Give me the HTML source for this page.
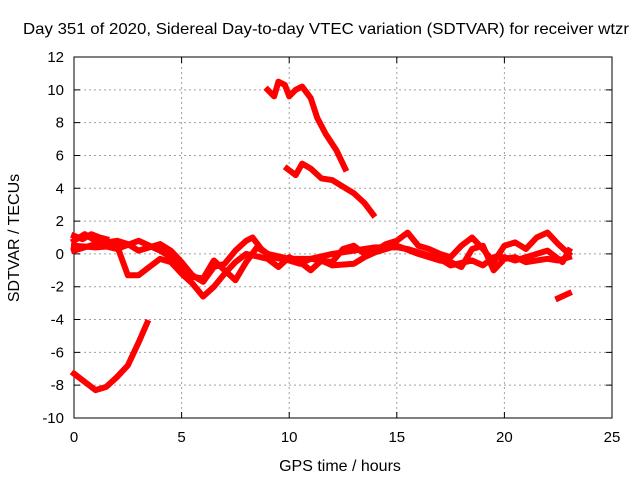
<!DOCTYPE html>
<html><head><meta charset="utf-8"><style>
body{margin:0;background:#fff}
svg{display:block;font-family:"Liberation Sans",Arial,sans-serif}
</style></head><body>
<svg id="c" width="640" height="480"></svg>
<script>
const xTicks=[0,5,10,15,20,25];
const yTicks=[-10,-8,-6,-4,-2,0,2,4,6,8,10,12];
const seriesDrop=[[0,-7.3],[0.5,-7.8],[1,-8.3],[1.5,-8.1],[2,-7.5],[2.5,-6.8],[3,-5.4],[3.4,-4.2]];
const seriesHigh=[[9,10],[9.3,9.6],[9.5,10.5],[9.8,10.3],[10,9.6],[10.3,10],[10.6,10.2],[11,9.5],[11.3,8.3],[11.7,7.3],[12.2,6.3],[12.6,5.2]];
const seriesMid=[[9.9,5.2],[10.3,4.8],[10.6,5.5],[11,5.2],[11.5,4.6],[12,4.5],[12.5,4.1],[13,3.7],[13.5,3.1],[13.9,2.4]];
const seriesLate=[[22.5,-2.7],[23,-2.4]];
const seriesBand1=[[0,0.8],[0.5,1.2],[1,0.8],[1.5,0.7],[2,0.8],[2.5,0.6],[3,0.2],[3.5,0.4],[4,0.6],[4.5,0.2],[5,-0.5],[5.5,-1.3],[6,-1.7],[6.5,-0.8],[7,-0.6],[7.5,0.2],[8,0.8],[8.3,1.0],[8.7,0.3],[9.2,-0.2],[10,-0.4],[10.5,-0.6],[11,-0.3],[12,-0.5],[12.5,0.3],[13,0.5],[13.5,0],[14,0.2],[14.5,0.6],[15,0.8],[15.5,1.3],[16,0.5],[16.5,0.3],[17,0],[17.5,-0.2],[18,0.5],[18.5,1.0],[19,0.3],[19.5,-0.5],[20,0.5],[20.5,0.7],[21,0.3],[21.5,1.0],[22,1.3],[22.5,0.6],[23,0]];
const seriesBand2=[[0,0.5],[1,0.4],[2,0.5],[2.5,-1.3],[3,-1.3],[3.5,-0.8],[4,-0.3],[4.5,-0.5],[5,-1.2],[5.5,-1.8],[6,-2.6],[6.5,-2],[7,-1.2],[7.5,-0.5],[8,0],[9,-0.3],[9.5,-0.8],[10,-0.2],[10.5,-0.5],[11,-1.0],[11.5,-0.4],[12,-0.7],[13,-0.6],[13.5,-0.2],[14,0.1],[15,0.5],[16,0],[17,-0.4],[17.5,-0.5],[18,-0.8],[18.5,0.3],[19,0.5],[19.5,-1.0],[20,-0.3],[20.5,-0.2],[21,-0.5],[22,-0.3],[22.5,-0.4],[23,-0.2]];
const seriesBand3=[[0,0.2],[1,0.6],[2,0.3],[3,0.8],[4,0.2],[4.5,-0.2],[5,-0.8],[5.5,-1.4],[6,-1.5],[6.5,-0.4],[7,-1.0],[7.5,-1.6],[8,-0.5],[8.5,0.4],[9,0],[10,-0.3],[11,-0.3],[12,0],[13,0.2],[14,0.4],[15,0.4],[15.5,0.3],[16,0.1],[17,-0.3],[17.5,-0.7],[18.5,-0.4],[19,-0.7],[19.5,-0.2],[20,-0.2],[20.5,-0.4],[21,-0.2],[22,0.2],[22.7,-0.5],[23,0.2]];
const seriesStart=[[0,1.1],[0.4,0.9],[0.8,1.2],[1.2,1.0],[1.5,0.9]];

const L=74,R=612,T=57,B=418;
const sx=v=>L+(v-0)/25*(R-L);
const sy=v=>B-(v+10)/22*(B-T);
const svg=document.getElementById('c');
const NS='http://www.w3.org/2000/svg';
function mk(tag,attrs,parent){const e=document.createElementNS(NS,tag);for(const k in attrs)e.setAttribute(k,attrs[k]);(parent||svg).appendChild(e);return e;}

const grid=mk('g',{});


xTicks.forEach(t=>{
  if(t>0&&t<25){const l=mk('line',{x1:sx(t),x2:sx(t),y1:T,y2:B,stroke:'#a0a0a0','stroke-dasharray':'2,3'},grid);
  }
  const tk=mk('path',{d:`M${sx(t)},${B}v-6M${sx(t)},${T}v6`,stroke:'#000'});
  
  const tx=mk('text',{x:sx(t),y:B+24,'text-anchor':'middle','font-size':15,fill:'#000'});
  tx.textContent=t;
  
});
yTicks.forEach(t=>{
  if(t>-10&&t<12){const l=mk('line',{x1:L,x2:R,y1:sy(t),y2:sy(t),stroke:'#a0a0a0','stroke-dasharray':'2,3'},grid);
  }
  const tk=mk('path',{d:`M${L},${sy(t)}h6M${R},${sy(t)}h-6`,stroke:'#000'});
  
  const tx=mk('text',{x:L-10,y:sy(t)+5,'text-anchor':'end','font-size':15,fill:'#000'});
  tx.textContent=t;
  
});
const frame=mk('rect',{x:L,y:T,width:R-L,height:B-T,fill:'none',stroke:'#000'});



const all=[['series-band-1',seriesBand1],['series-band-2',seriesBand2],['series-band-3',seriesBand3],['series-start',seriesStart],['series-drop',seriesDrop],['series-high',seriesHigh],['series-mid',seriesMid],['series-late',seriesLate]];
all.forEach(([name,d])=>{
  const p=mk('polyline',{points:d.map(q=>sx(q[0])+','+sy(q[1])).join(' '),fill:'none',stroke:'#ff0000','stroke-width':6,'stroke-linejoin':'round','stroke-linecap':'square'});
  
  
});

const title=mk('text',{x:326,y:34,'text-anchor':'middle','font-size':16,fill:'#000',textLength:606,lengthAdjust:'spacingAndGlyphs'});
title.textContent='Day 351 of 2020, Sidereal Day-to-day VTEC variation (SDTVAR) for receiver wtzr';


const xt=mk('text',{x:340,y:471,'text-anchor':'middle','font-size':16,fill:'#000'});
xt.textContent='GPS time / hours';


const yt=mk('text',{x:0,y:0,'text-anchor':'middle','font-size':16,fill:'#000',transform:'translate(19,238) rotate(-90)'});
yt.textContent='SDTVAR / TECUs';


</script>
</body></html>
